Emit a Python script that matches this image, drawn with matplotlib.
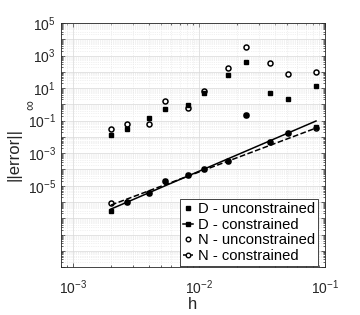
import numpy as np
import matplotlib
matplotlib.use('Agg')
import matplotlib.pyplot as plt
from matplotlib.ticker import LogLocator, FixedLocator, FuncFormatter, NullFormatter
from matplotlib.lines import Line2D

plt.rcParams['font.family'] = ['Liberation Sans', 'DejaVu Sans']
plt.rcParams['mathtext.fontset'] = 'custom'
plt.rcParams['mathtext.rm'] = 'Liberation Sans'
plt.rcParams['mathtext.it'] = 'Liberation Sans:italic'
plt.rcParams['mathtext.default'] = 'regular'

# %% data
h = [0.002, 0.00267, 0.004, 0.0054, 0.0082, 0.011, 0.0169, 0.0235, 0.0365, 0.0507, 0.0847]

D_unc = [0.0125, 0.030, 0.145, 0.51, 0.91, 5.0, 63, 400, 5.0, 2.1, 13.5]
N_unc = [0.030, 0.062, 0.062, 1.6, 0.60, 6.6, 170, 3300, 350, 74, 98]
D_con = [2.8e-7, 1.0e-6, 3.5e-6, 1.95e-5, 4.6e-5, 1.07e-4, 3.3e-4, 0.22, 4.9e-3, 1.74e-2, 4.1e-2]
N_con = [8.7e-7, 1.0e-6, 3.5e-6, 1.95e-5, 4.6e-5, 1.07e-4, 3.3e-4, 0.22, 4.9e-3, 1.74e-2, 3.3e-2]

# straight reference lines (end points)
fit_h = [0.002, 0.0847]
fit_D = [3.7e-7, 9.5e-2]
fit_N = [6.5e-7, 3.5e-2]

ylabels_shown = [1e5, 1e3, 1e1, 1e-1, 1e-3, 1e-5]

# %% plot
fig = plt.figure(figsize=(3.6, 3.15), dpi=100)
ax = fig.add_axes([0.169, 0.152, 0.734, 0.775])

k = 'k'
ax.plot(h, N_unc, 'o', color=k, ms=3.6, mfc='white', mec=k, mew=1.1)
ax.plot(h, D_unc, 's', color=k, ms=3.5, mec=k, mfc=k)
ax.plot(h, N_con, 'o', color=k, ms=3.6, mfc='white', mec=k, mew=1.1)
ax.plot(h, D_con, 's', color=k, ms=3.5, mec=k, mfc=k)
ax.plot(fit_h, fit_D, '-', color=k, lw=1.1)
ax.plot(fit_h, fit_N, '--', color=k, lw=1.1)

ax.set_xscale('log')
ax.set_yscale('log')
ax.set_xlim(8e-4, 1e-1)
ax.set_ylim(1e-10, 1e5)

ax.yaxis.set_major_locator(FixedLocator([10.0**e for e in range(-10, 6)]))
ax.yaxis.set_minor_locator(LogLocator(base=10, subs=np.arange(2, 10), numticks=100))


def yfmt(v, pos):
    e = int(round(np.log10(v)))
    if any(abs(v - s) / s < 1e-6 for s in ylabels_shown):
        return r'$10^{%d}$' % e
    return ''


ax.yaxis.set_major_formatter(FuncFormatter(yfmt))
ax.yaxis.set_minor_formatter(NullFormatter())
ax.xaxis.set_major_locator(FixedLocator([1e-3, 1e-2, 1e-1]))
ax.xaxis.set_major_formatter(FuncFormatter(lambda v, p: r'$10^{%d}$' % int(round(np.log10(v)))))
ax.xaxis.set_minor_locator(LogLocator(base=10, subs=np.arange(2, 10), numticks=100))
ax.xaxis.set_minor_formatter(NullFormatter())

ax.grid(True, which='major', color='#d8d8d8', lw=0.5, ls='-')
ax.grid(True, which='minor', color='#e4e4e4', lw=0.5, ls=':')
ax.set_axisbelow(True)

ax.tick_params(which='both', direction='in', top=True, right=True, colors='#262626',
               labelsize=10, labelcolor='#262626')
ax.tick_params(which='major', length=3, width=0.5)
ax.tick_params(which='minor', length=1.5, width=0.5)
ax.tick_params(axis='x', pad=8)
for s in ax.spines.values():
    s.set_color('#262626')
    s.set_linewidth(0.6)

ax.set_xlabel('h', fontsize=12, color='#262626', labelpad=0)
ax.set_ylabel('||error||', fontsize=12, color='#262626')
ax.yaxis.set_label_coords(-0.148, 0.46)
fig.text(0.085, 0.667, r'$\infty$', rotation=90, fontsize=10, color='#262626',
         ha='center', va='center')

handles = [
    Line2D([], [], ls='none', marker='s', color=k, ms=3),
    Line2D([], [], ls='-', marker='s', color=k, ms=3, lw=1.1),
    Line2D([], [], ls='none', marker='o', color=k, ms=3.3, mfc='white'),
    Line2D([], [], ls='--', marker='o', color=k, ms=3.3, mfc='white', lw=1.1),
]
labels = ['D - unconstrained', 'D - constrained', 'N - unconstrained', 'N - constrained']
leg = ax.legend(handles, labels, loc='lower right', bbox_to_anchor=(0.973, 0.004),
                fontsize=10.6, handlelength=0.7, handletextpad=0.3, borderpad=0.2,
                labelspacing=0.12, borderaxespad=0, fancybox=False, framealpha=1,
                edgecolor='#262626')
leg.get_frame().set_linewidth(0.6)

fig.savefig('out.png', dpi=100, facecolor='white')
